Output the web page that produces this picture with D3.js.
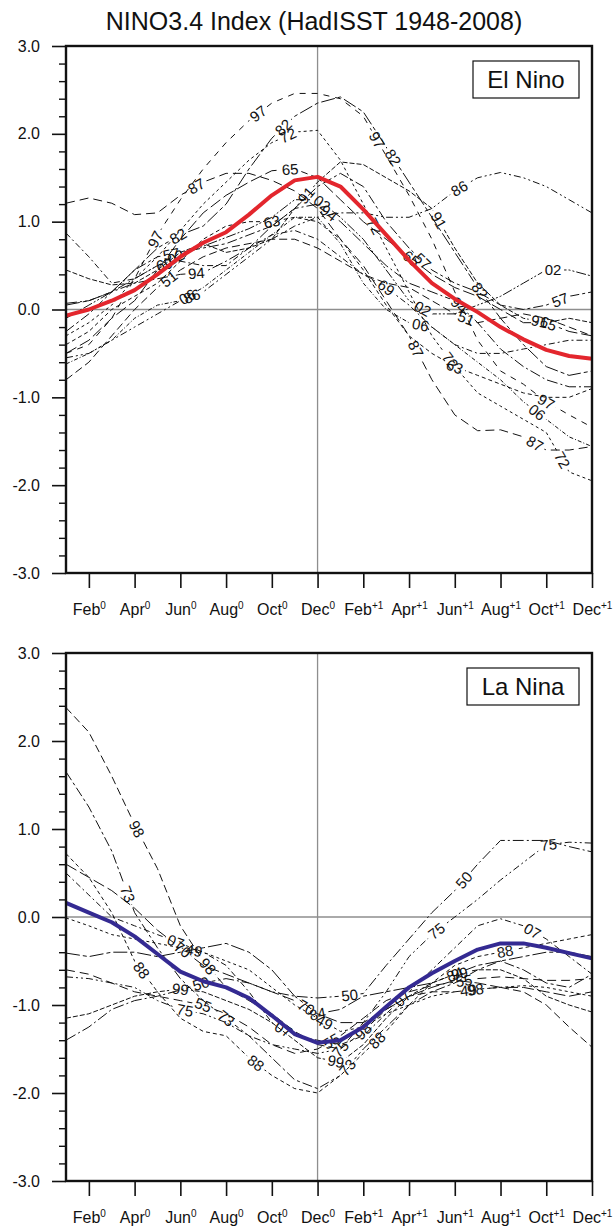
<!DOCTYPE html>
<html>
<head>
<meta charset="utf-8">
<script src="https://d3js.org/d3.v7.min.js"></script>
<style>
  body { margin: 0; background: #fff; }
  text { font-family: "Liberation Sans", Arial, Helvetica, sans-serif; }
</style>
</head>
<body>
<script>

// ---- data ----
var tickIdx    = [1, 3, 5, 7, 9, 11, 13, 15, 17, 19, 21, 23];
var tickMonth  = ['Feb','Apr','Jun','Aug','Oct','Dec','Feb','Apr','Jun','Aug','Oct','Dec'];
var tickYear   = ['0','0','0','0','0','0','+1','+1','+1','+1','+1','+1'];
var yMajor     = [-3, -2, -1, 0, 1, 2, 3];

var elYears = ['51','57','63','65','69','72','82','86','87','91','94','97','02','06'];
var elValues = [
  [-0.8,-0.6,-0.3,0.0,0.25,0.45,0.6,0.7,0.75,0.8,0.8,0.7,0.55,0.4,0.3,0.25,0.1,-0.05,-0.15,-0.1,-0.05,-0.1,-0.2,-0.3],
  [-0.25,-0.05,0.2,0.45,0.6,0.65,0.7,0.75,0.85,0.95,1.15,1.4,1.55,1.4,1.0,0.7,0.45,0.3,0.2,0.05,0.0,0.05,0.15,0.2],
  [-0.4,-0.25,0.0,0.15,0.3,0.55,0.8,0.95,1.0,1.0,1.05,1.0,0.8,0.45,0.05,-0.3,-0.5,-0.65,-0.75,-0.85,-0.95,-1.0,-1.0,-0.9],
  [-0.5,-0.35,-0.1,0.1,0.45,0.8,1.1,1.3,1.45,1.58,1.6,1.5,1.25,1.0,0.8,0.6,0.4,0.25,0.15,0.0,-0.15,-0.15,-0.25,-0.3],
  [0.87,0.6,0.3,0.35,0.5,0.55,0.5,0.5,0.7,0.85,0.9,0.8,0.6,0.4,0.25,0.05,-0.2,-0.4,-0.5,-0.5,-0.45,-0.4,-0.35,-0.35],
  [-0.3,-0.15,0.05,0.35,0.6,0.9,1.2,1.45,1.7,1.9,2.02,2.04,1.7,1.2,0.7,0.2,-0.3,-0.65,-0.95,-1.1,-1.25,-1.4,-1.85,-1.95],
  [0.05,0.1,0.2,0.45,0.7,0.85,0.95,1.2,1.6,1.95,2.2,2.35,2.42,2.25,1.85,1.45,1.05,0.65,0.25,-0.1,-0.4,-0.65,-0.75,-0.7],
  [-0.55,-0.5,-0.35,-0.2,-0.05,0.1,0.2,0.4,0.6,0.8,0.95,1.05,1.1,1.1,1.05,1.05,1.15,1.35,1.5,1.56,1.5,1.4,1.25,1.1],
  [1.21,1.27,1.21,1.08,1.1,1.3,1.45,1.55,1.55,1.47,1.35,1.15,0.8,0.5,0.1,-0.3,-0.8,-1.2,-1.38,-1.37,-1.45,-1.6,-1.6,-1.56],
  [0.45,0.35,0.28,0.3,0.45,0.65,0.75,0.65,0.7,0.8,1.15,1.45,1.68,1.65,1.5,1.35,1.15,0.7,0.3,0.05,-0.1,-0.15,-0.1,-0.15],
  [0.07,0.1,0.2,0.3,0.35,0.4,0.42,0.55,0.7,0.95,1.15,1.2,1.0,0.75,0.5,0.3,0.2,0.1,-0.15,-0.45,-0.65,-0.8,-0.88,-0.88],
  [-0.5,-0.4,-0.1,0.35,0.85,1.25,1.6,1.9,2.15,2.35,2.46,2.46,2.4,2.2,1.75,1.3,0.8,0.2,-0.35,-0.7,-0.85,-1.05,-1.2,-1.34],
  [-0.1,0.05,0.2,0.35,0.5,0.62,0.72,0.82,0.92,1.05,1.25,1.25,1.05,0.8,0.45,0.1,-0.05,-0.05,0.05,0.15,0.3,0.45,0.45,0.38],
  [-0.62,-0.5,-0.35,-0.1,0.05,0.1,0.25,0.45,0.65,0.85,1.05,1.05,0.75,0.3,0.0,-0.15,-0.2,-0.4,-0.6,-0.8,-1.05,-1.25,-1.45,-1.56]
];
// month positions where each year's label sits on its line
var elLabelAt = [
  [4.5, 17.5], [4.6, 15.6, 21.6], [9.0, 17.0], [9.8, 15.1, 21.1], [4.3, 14.0],
  [9.7, 13.5, 16.8, 21.7], [4.9, 9.5, 14.3, 18.1], [5.5, 17.2], [5.7, 15.3, 20.5],
  [10.5, 16.3, 20.7], [5.7, 11.5, 17.2], [3.9, 8.4, 13.6, 21.0], [4.8, 11.2, 15.6, 21.3],
  [5.3, 15.5, 20.6]
];
var elMean = [-0.07,0.0,0.1,0.22,0.4,0.6,0.76,0.88,1.08,1.3,1.47,1.51,1.4,1.14,0.85,0.56,0.3,0.12,-0.03,-0.2,-0.34,-0.46,-0.53,-0.56];

var laYears = ['98','73','88','70','07','49','84','75','55','99','50'];
var laValues = [
  [2.38,2.1,1.6,1.05,0.55,-0.1,-0.5,-0.8,-0.95,-1.1,-1.3,-1.45,-1.5,-1.3,-1.05,-0.9,-0.85,-0.85,-0.82,-0.8,-0.85,-1.0,-1.25,-1.48],
  [1.65,1.25,0.75,0.05,-0.35,-0.7,-0.95,-1.15,-1.35,-1.6,-1.85,-1.95,-1.8,-1.5,-1.25,-1.0,-0.85,-0.75,-0.6,-0.5,-0.6,-0.75,-0.8,-0.65],
  [0.72,0.45,0.05,-0.5,-0.85,-1.15,-1.3,-1.35,-1.6,-1.8,-1.95,-2.0,-1.8,-1.55,-1.3,-1.0,-0.75,-0.55,-0.45,-0.4,-0.35,-0.3,-0.25,-0.2],
  [0.6,0.45,0.3,0.1,-0.15,-0.35,-0.55,-0.65,-0.75,-0.85,-0.95,-1.1,-1.2,-1.2,-1.05,-0.9,-0.8,-0.72,-0.75,-0.8,-0.8,-0.85,-0.9,-0.85],
  [0.5,0.25,0.0,-0.1,-0.2,-0.3,-0.4,-0.55,-0.85,-1.2,-1.35,-1.4,-1.45,-1.35,-1.1,-0.85,-0.6,-0.35,-0.1,-0.02,-0.1,-0.25,-0.45,-0.65],
  [-0.01,-0.1,-0.2,-0.25,-0.3,-0.35,-0.4,-0.5,-0.6,-0.8,-1.0,-1.15,-1.3,-1.25,-1.1,-1.0,-0.9,-0.85,-0.82,-0.8,-0.78,-0.8,-0.85,-0.9],
  [-0.41,-0.45,-0.4,-0.4,-0.45,-0.4,-0.35,-0.3,-0.4,-0.6,-0.9,-1.1,-1.05,-0.9,-0.85,-0.8,-0.75,-0.65,-0.55,-0.5,-0.45,-0.4,-0.4,-0.45],
  [-0.68,-0.7,-0.75,-0.8,-0.95,-1.05,-1.1,-1.2,-1.35,-1.45,-1.5,-1.55,-1.5,-1.2,-0.85,-0.45,-0.2,0.0,0.2,0.42,0.62,0.82,0.85,0.84],
  [-0.6,-0.65,-0.75,-0.85,-0.9,-0.95,-1.0,-1.1,-1.25,-1.45,-1.55,-1.5,-1.35,-1.15,-0.95,-0.85,-0.78,-0.74,-0.7,-0.68,-0.7,-0.72,-0.72,-0.7],
  [-1.15,-1.1,-1.0,-0.9,-0.85,-0.82,-0.85,-0.95,-1.05,-1.2,-1.4,-1.6,-1.65,-1.45,-1.15,-0.9,-0.75,-0.65,-0.6,-0.6,-0.7,-0.9,-1.0,-1.08],
  [-1.4,-1.25,-1.05,-0.95,-0.9,-0.83,-0.75,-0.7,-0.75,-0.85,-0.9,-0.92,-0.9,-0.87,-0.55,-0.25,0.05,0.3,0.6,0.87,0.87,0.87,0.8,0.74]
];
var laLabelAt = [
  [3.1, 6.2, 13.0, 17.9], [2.7, 7.0, 12.3], [3.3, 8.3, 13.6, 19.2], [5.1, 10.5],
  [4.8, 9.5, 14.7, 20.4], [5.6, 11.3, 17.6], [11.0, 17.0], [5.2, 12.0, 16.2, 21.1],
  [6.0, 11.6, 17.4], [5.0, 11.8, 17.2], [5.9, 12.4, 17.4]
];
var laMean = [0.16,0.05,-0.06,-0.22,-0.42,-0.62,-0.73,-0.8,-0.92,-1.12,-1.33,-1.43,-1.4,-1.25,-1.02,-0.8,-0.64,-0.5,-0.37,-0.3,-0.3,-0.35,-0.41,-0.47];

// ---- styles ----
var dashes = ['8,4', '10,3,3,3', '4,3', '12,4', '6,3,2,3', '3,3', '14,3,4,3',
              '7,3,2,3,2,3', '9,5', '5,2', '11,3,2,3', '6,6', '10,2,2,2,2,2', '4,2,1,2'];

var W = 615, H = 1228;
var left = 66, right = 592;

var svg = d3.select('body').append('svg')
    .attr('width', W)
    .attr('height', H);

svg.append('text')
    .attr('x', 314)
    .attr('y', 30)
    .attr('text-anchor', 'middle')
    .attr('font-size', 25)
    .attr('fill', '#111')
    .text('NINO3.4 Index (HadISST 1948-2008)');

var x = d3.scaleLinear().domain([0, 23]).range([left, right]);

var drawPanel = function(id, top, bottom, years, values, labelAt, mean, meanColor, legend, boxX, boxW) {
    var y = d3.scaleLinear().domain([-3, 3]).range([bottom, top]);
    var g = svg.append('g');

    var line = d3.line()
        .x(function(d, i) { return x(i); })
        .y(function(d) { return y(d); });

    // reference lines at Dec0 and zero
    g.append('line')
        .attr('x1', x(11)).attr('x2', x(11))
        .attr('y1', top).attr('y2', bottom)
        .attr('stroke', '#8e8e8e').attr('stroke-width', 1.3);
    g.append('line')
        .attr('x1', left).attr('x2', right)
        .attr('y1', y(0)).attr('y2', y(0))
        .attr('stroke', '#8e8e8e').attr('stroke-width', 1.3);

    var defs = svg.append('defs');

    years.forEach(function(yr, k) {
        var vals = values[k];
        // where the labels sit, and their slope
        var spots = labelAt[k].map(function(t) {
            var i0 = Math.floor(t), i1 = Math.min(i0 + 1, 23), f = t - i0;
            var v = vals[i0] + (vals[i1] - vals[i0]) * f;
            var ang = Math.atan2(y(vals[i1]) - y(vals[i0]), x(i1) - x(i0)) * 180 / Math.PI;
            return {px: x(t), py: y(v), ang: ang};
        });

        var mask = defs.append('mask')
            .attr('id', id + '-m' + k)
            .attr('maskUnits', 'userSpaceOnUse')
            .attr('x', 0).attr('y', 0).attr('width', W).attr('height', H);
        mask.append('rect')
            .attr('x', 0).attr('y', 0).attr('width', W).attr('height', H)
            .attr('fill', 'white');
        spots.forEach(function(s) {
            mask.append('rect')
                .attr('x', -11).attr('y', -6).attr('width', 22).attr('height', 12)
                .attr('fill', 'black')
                .attr('transform', 'translate(' + s.px + ',' + s.py + ') rotate(' + s.ang + ')');
        });

        g.append('path')
            .datum(vals)
            .attr('d', line)
            .attr('fill', 'none')
            .attr('stroke', '#111')
            .attr('stroke-width', 1)
            .attr('stroke-dasharray', dashes[k % dashes.length])
            .attr('mask', 'url(#' + id + '-m' + k + ')');

        spots.forEach(function(s) {
            g.append('text')
                .attr('transform', 'translate(' + s.px + ',' + s.py + ') rotate(' + s.ang + ')')
                .attr('text-anchor', 'middle')
                .attr('dy', '0.36em')
                .attr('font-size', 15)
                .attr('fill', '#111')
                .text(yr);
        });
    });

    g.append('path')
        .datum(mean)
        .attr('d', line)
        .attr('fill', 'none')
        .attr('stroke', meanColor)
        .attr('stroke-width', 4)
        .attr('stroke-linejoin', 'round');

    // legend box
    g.append('rect')
        .attr('x', boxX).attr('y', top + 15)
        .attr('width', boxW).attr('height', 37)
        .attr('fill', 'white')
        .attr('stroke', '#111').attr('stroke-width', 1.2);
    g.append('text')
        .attr('x', boxX + boxW / 2).attr('y', top + 42)
        .attr('text-anchor', 'middle')
        .attr('font-size', 24)
        .attr('fill', '#111')
        .text(legend);

    // axes
    var yAxis = d3.axisLeft(y)
        .tickValues(yMajor)
        .tickSize(14)
        .tickPadding(12)
        .tickFormat(function(d) { return d.toFixed(1); });
    var ya = g.append('g')
        .attr('transform', 'translate(' + left + ',0)')
        .call(yAxis);
    ya.select('.domain').remove();
    ya.selectAll('.tick line').attr('stroke', '#111').attr('stroke-width', 1.6);
    ya.selectAll('.tick text')
        .attr('font-size', 16)
        .attr('fill', '#111')
        .attr('font-family', '"Liberation Sans", Arial, sans-serif');

    var minor = d3.range(-30, 31, 2).map(function(d) { return d / 10; })
        .filter(function(d) { return yMajor.indexOf(d) < 0; });
    var ym = g.append('g')
        .attr('transform', 'translate(' + left + ',0)')
        .call(d3.axisLeft(y).tickValues(minor).tickSize(7).tickFormat(''));
    ym.select('.domain').remove();
    ym.selectAll('.tick line').attr('stroke', '#111').attr('stroke-width', 1.4);

    var xAxis = d3.axisBottom(x)
        .tickValues(tickIdx)
        .tickSize(15)
        .tickFormat('');
    var xa = g.append('g')
        .attr('transform', 'translate(0,' + bottom + ')')
        .call(xAxis);
    xa.select('.domain').remove();
    xa.selectAll('.tick line').attr('stroke', '#111').attr('stroke-width', 1.6);
    xa.selectAll('.tick').each(function(d, i) {
        var t = d3.select(this).select('text')
            .attr('y', 42)
            .attr('dy', null)
            .attr('font-size', 16)
            .attr('fill', '#111')
            .attr('font-family', '"Liberation Sans", Arial, sans-serif');
        t.text(tickMonth[i]);
        t.append('tspan')
            .attr('dy', -6)
            .attr('font-size', 10)
            .text(tickYear[i]);
    });

    // frame
    g.append('rect')
        .attr('x', left).attr('y', top)
        .attr('width', right - left).attr('height', bottom - top)
        .attr('fill', 'none')
        .attr('stroke', '#111')
        .attr('stroke-width', 2.4);
};

drawPanel('el', 46, 573, elYears, elValues, elLabelAt, elMean, '#e3262d', 'El Nino', 473, 106);
drawPanel('la', 653, 1181, laYears, laValues, laLabelAt, laMean, '#342a92', 'La Nina', 467, 112);

</script>
</body>
</html>
